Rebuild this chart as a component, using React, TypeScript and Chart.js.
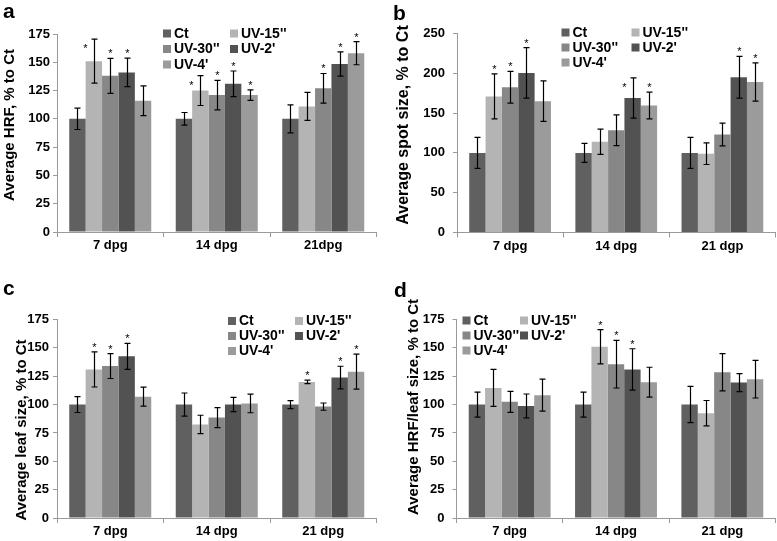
import React, { useEffect, useRef } from 'react';
import { Chart, registerables } from 'chart.js';
Chart.register(...registerables);

const FONT = "'Liberation Sans', Arial, Helvetica, sans-serif";

// ---------------- data ----------------
const seriesNames = ["Ct", "UV-15''", "UV-30''", "UV-2'", "UV-4'"];
const seriesColors = ['#606060', '#b4b4b4', '#878787', '#525252', '#9b9b9b'];

const catsA = ['7 dpg', '14 dpg', '21dpg'];
const catsB = ['7 dpg', '14 dpg', '21 dgp'];
const catsC = ['7 dpg', '14 dpg', '21 dpg'];
const catsD = ['7 dpg', '14 dpg', '21 dpg'];

// rows: Ct, UV-15'', UV-30'', UV-2', UV-4' ; columns: 7 / 14 / 21 dpg
// significance: 0 none, 1 star above bar, 2 star beside bar
const hrfMean = [
  [100, 100, 100],
  [151, 125, 111],
  [138, 121, 127],
  [141, 131, 148.5],
  [116, 121, 158],
];
const hrfErr = [
  [9.4, 5.6, 12.4],
  [19.5, 13.2, 12.4],
  [15.4, 13, 13.1],
  [12.6, 11.3, 10.7],
  [13.2, 4.7, 10.2],
];
const hrfSig = [
  [0, 0, 0],
  [2, 2, 0],
  [1, 1, 1],
  [1, 1, 1],
  [0, 1, 1],
];

const spotMean = [
  [100, 100, 100],
  [171, 114, 99],
  [182.5, 128.5, 123],
  [200.5, 169, 195],
  [165, 159.5, 189],
];
const spotErr = [
  [19.5, 12, 19.5],
  [28.3, 15.8, 13.6],
  [20, 19.3, 14.3],
  [31.7, 25.2, 26.3],
  [25.4, 16.8, 24],
];
const spotSig = [
  [0, 0, 0],
  [1, 0, 0],
  [1, 0, 0],
  [1, 2, 1],
  [0, 1, 1],
];

const leafMean = [
  [100, 100, 100],
  [131, 82.5, 120],
  [134, 88.5, 98.2],
  [142.5, 100, 123.8],
  [107, 101, 129],
];
const leafErr = [
  [7, 10.2, 3.5],
  [15.5, 8.1, 1.6],
  [11, 8.8, 3.2],
  [11.5, 6.3, 10],
  [8.4, 8.2, 15.4],
];
const leafSig = [
  [0, 0, 0],
  [1, 0, 1],
  [1, 0, 0],
  [1, 0, 1],
  [0, 0, 1],
];

const ratioMean = [
  [100, 100, 100],
  [114.7, 151, 92.4],
  [102.4, 135.6, 128.5],
  [98.8, 131, 119.4],
  [108.3, 119.7, 122.4],
];
const ratioErr = [
  [11, 11, 16],
  [16.3, 15.1, 11.2],
  [9.3, 21, 16.5],
  [10.5, 18.2, 7.9],
  [14.1, 13.2, 16.6],
];
const ratioSig = [
  [0, 0, 0],
  [0, 1, 0],
  [0, 1, 0],
  [0, 1, 0],
  [0, 0, 0],
];

const yMaxA = 175, yStepA = 25;
const yMaxB = 250, yStepB = 50;
const yMaxC = 175, yStepC = 25;
const yMaxD = 175, yStepD = 25;

const titleA = 'Average HRF, % to Ct';
const titleB = 'Average spot size, % to Ct';
const titleC = 'Average leaf size, % to Ct';
const titleD = 'Average HRF/leaf size, % to Ct';

// ---------------- plugins ----------------
const errorBarPlugin = {
  id: 'errorBars',
  afterDatasetsDraw(chart: any, _args: any, opts: any) {
    const ctx = chart.ctx;
    const y = chart.scales.y;
    ctx.save();
    chart.data.datasets.forEach((ds: any, i: number) => {
      const meta = chart.getDatasetMeta(i);
      meta.data.forEach((bar: any, j: number) => {
        const v = ds.data[j];
        const e = ds.errors[j];
        const yt = y.getPixelForValue(v + e);
        const yb = y.getPixelForValue(v - e);
        const x = Math.round(bar.x) + 0.5;
        ctx.strokeStyle = '#000';
        ctx.lineWidth = 1.2;
        ctx.beginPath();
        ctx.moveTo(x, yt); ctx.lineTo(x, yb);
        ctx.moveTo(x - 3, yt); ctx.lineTo(x + 3, yt);
        ctx.moveTo(x - 3, yb); ctx.lineTo(x + 3, yb);
        ctx.stroke();
        const s = ds.sig[j];
        if (s) {
          ctx.fillStyle = '#000';
          ctx.font = `11px ${FONT}`;
          ctx.textAlign = 'center';
          ctx.textBaseline = 'alphabetic';
          let sx = x, sy = yt - 1;
          if (s === 2) { sx += opts.sideDx; sy += opts.sideDy; }
          ctx.fillText('*', sx, sy);
        }
      });
    });
    ctx.restore();
  },
};

const gridLegendPlugin = {
  id: 'gridLegend',
  afterDraw(chart: any, _args: any, opts: any) {
    const ctx = chart.ctx;
    ctx.save();
    ctx.font = `bold 14px ${FONT}`;
    ctx.textBaseline = 'middle';
    ctx.textAlign = 'left';
    chart.data.datasets.forEach((ds: any, i: number) => {
      const col = i % 2, row = Math.floor(i / 2);
      const sx = col === 0 ? opts.x1 : opts.x2;
      const cy = opts.y + row * opts.dy;
      ctx.fillStyle = ds.backgroundColor;
      ctx.fillRect(sx, cy - 4, 8, 8);
      ctx.fillStyle = '#000';
      ctx.fillText(ds.label, sx + 11, cy + 0.5);
    });
    ctx.restore();
  },
};

const panelTextPlugin = {
  id: 'panelText',
  afterDraw(chart: any, _args: any, opts: any) {
    const ctx = chart.ctx;
    ctx.save();
    ctx.fillStyle = '#000';
    ctx.font = `bold 21px ${FONT}`;
    ctx.textAlign = 'left';
    ctx.textBaseline = 'alphabetic';
    ctx.fillText(opts.letter, opts.lx, opts.ly);
    ctx.translate(opts.tx, opts.ty);
    ctx.rotate(-Math.PI / 2);
    ctx.font = `bold ${opts.tsize}px ${FONT}`;
    ctx.textAlign = 'center';
    ctx.fillText(opts.title, 0, 0);
    ctx.restore();
  },
};

// ---------------- panel ----------------
type Layout = {
  x: number; y: number; w: number; h: number;
  top: number; bottom: number; left: number; right: number;
  yPad: number;
  legend: { x1: number; x2: number; y: number; dy: number };
  letter: string; lx: number; ly: number;
  tx: number; ty: number; tsize: number;
};

function Panel(props: {
  labels: string[]; means: number[][]; errs: number[][]; sigs: number[][];
  yMax: number; yStep: number; title: string; L: Layout;
}) {
  const ref = useRef<HTMLCanvasElement>(null);
  const { labels, means, errs, sigs, yMax, yStep, title, L } = props;
  useEffect(() => {
    const chart = new Chart(ref.current as HTMLCanvasElement, {
      type: 'bar',
      data: {
        labels,
        datasets: seriesNames.map((name, i) => ({
          label: name,
          data: means[i],
          errors: errs[i],
          sig: sigs[i],
          backgroundColor: seriesColors[i],
          borderWidth: 0,
          categoryPercentage: 0.77,
          barPercentage: 1,
        })) as any,
      },
      options: {
        responsive: false,
        animation: false,
        devicePixelRatio: 1,
        layout: { padding: { top: L.top, right: L.w - L.right, left: 0, bottom: 0 } },
        plugins: {
          legend: { display: false },
          tooltip: { enabled: false },
          errorBars: { sideDx: -9, sideDy: 14 },
          gridLegend: L.legend,
          panelText: { letter: L.letter, lx: L.lx, ly: L.ly, title, tx: L.tx, ty: L.ty, tsize: L.tsize },
        } as any,
        scales: {
          x: {
            afterFit: (s: any) => { s.height = L.h - L.bottom; },
            grid: { offset: true, drawOnChartArea: false, tickLength: 5, color: '#9a9a9a' },
            border: { color: '#9a9a9a' },
            ticks: { color: '#000', padding: 1, font: { family: FONT, size: 13, weight: 'bold' } },
          },
          y: {
            min: 0, max: yMax,
            afterFit: (s: any) => { s.width = L.left; },
            grid: { drawOnChartArea: false, tickLength: 4, color: '#9a9a9a' },
            border: { color: '#9a9a9a' },
            ticks: { stepSize: yStep, color: '#000', padding: L.yPad, font: { family: FONT, size: 13, weight: 'bold' } },
          },
        } as any,
      },
      plugins: [errorBarPlugin, gridLegendPlugin, panelTextPlugin] as any,
    });
    return () => chart.destroy();
  }, []);
  return (
    <canvas
      ref={ref}
      width={L.w}
      height={L.h}
      style={{ position: 'absolute', left: L.x, top: L.y, width: L.w, height: L.h }}
    />
  );
}

const layoutA: Layout = {
  x: 0, y: 0, w: 390, h: 270, top: 34, bottom: 232, left: 57, right: 376.5, yPad: 3,
  legend: { x1: 163, x2: 230, y: 33.5, dy: 15.5 },
  letter: 'a', lx: 3, ly: 18, tx: 14, ty: 125, tsize: 15,
};
const layoutB: Layout = {
  x: 390, y: 0, w: 387, h: 270, top: 33.5, bottom: 232.5, left: 67, right: 385.5, yPad: 8,
  legend: { x1: 171.5, x2: 241.5, y: 32.5, dy: 15 },
  letter: 'b', lx: 3, ly: 20, tx: 18, ty: 125, tsize: 16,
};
const layoutC: Layout = {
  x: 0, y: 270, w: 390, h: 271, top: 49.5, bottom: 248, left: 57, right: 376.5, yPad: 4,
  legend: { x1: 228, x2: 295, y: 51, dy: 15 },
  letter: 'c', lx: 3, ly: 25, tx: 26, ty: 160, tsize: 15,
};
const layoutD: Layout = {
  x: 390, y: 270, w: 387, h: 271, top: 49.5, bottom: 248, left: 66.5, right: 385.5, yPad: 8,
  legend: { x1: 72.5, x2: 130, y: 50.5, dy: 15 },
  letter: 'd', lx: 4, ly: 26.5, tx: 28, ty: 137, tsize: 15,
};

export default function App() {
  return (
    <div style={{ position: 'fixed', left: 0, top: 0, width: 777, height: 541, background: '#fff' }}>
      <Panel labels={catsA} means={hrfMean} errs={hrfErr} sigs={hrfSig} yMax={yMaxA} yStep={yStepA} title={titleA} L={layoutA} />
      <Panel labels={catsB} means={spotMean} errs={spotErr} sigs={spotSig} yMax={yMaxB} yStep={yStepB} title={titleB} L={layoutB} />
      <Panel labels={catsC} means={leafMean} errs={leafErr} sigs={leafSig} yMax={yMaxC} yStep={yStepC} title={titleC} L={layoutC} />
      <Panel labels={catsD} means={ratioMean} errs={ratioErr} sigs={ratioSig} yMax={yMaxD} yStep={yStepD} title={titleD} L={layoutD} />
    </div>
  );
}
